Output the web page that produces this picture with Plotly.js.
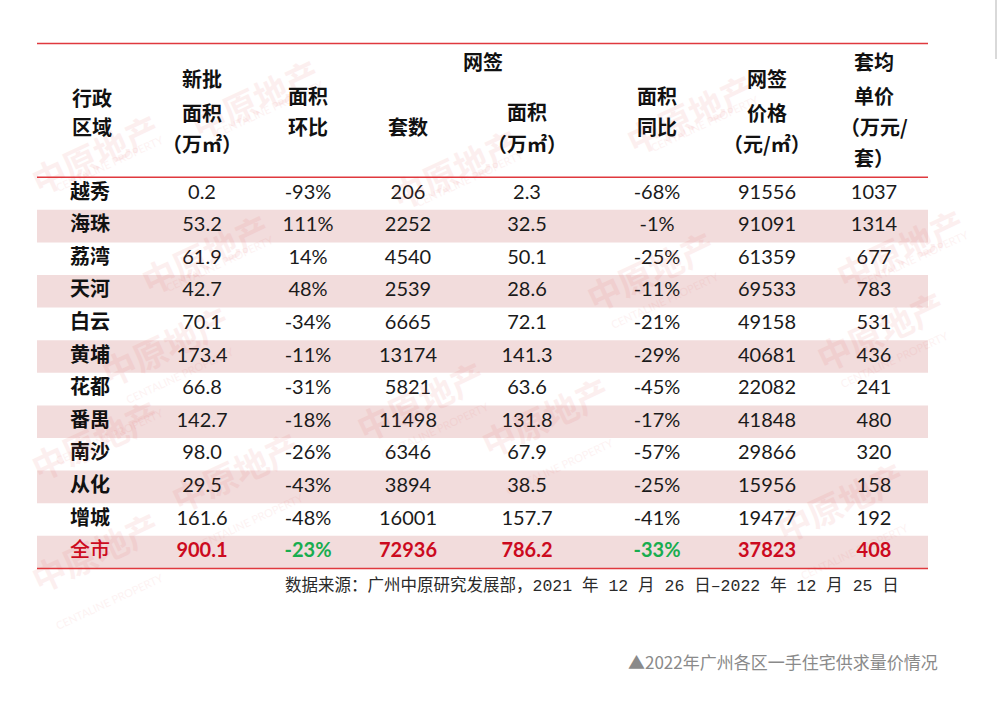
<!DOCTYPE html>
<html>
<head>
<meta charset="utf-8">
<script src="https://cdn.plot.ly/plotly-3.0.1.min.js"></script>
<style>html,body{margin:0;padding:0;background:#fff;}#chart{width:1000px;height:702px;}</style>
</head>
<body>
<div id="chart"></div>
<script>
// ---------- DATA ----------
const districts = ['越秀','海珠','荔湾','天河','白云','黄埔','花都','番禺','南沙','从化','增城'];
const newArea   = [0.2, 53.2, 61.9, 42.7, 70.1, 173.4, 66.8, 142.7, 98.0, 29.5, 161.6];   // 新批面积 (万㎡)
const areaMoM   = [-93, 111, 14, 48, -34, -11, -31, -18, -26, -43, -48];                   // 面积环比 %
const signUnits = [206, 2252, 4540, 2539, 6665, 13174, 5821, 11498, 6346, 3894, 16001];     // 网签套数
const signArea  = [2.3, 32.5, 50.1, 28.6, 72.1, 141.3, 63.6, 131.8, 67.9, 38.5, 157.7];     // 网签面积 (万㎡)
const areaYoY   = [-68, -1, -25, -11, -21, -29, -45, -17, -57, -25, -41];                   // 面积同比 %
const signPrice = [91556, 91091, 61359, 69533, 49158, 40681, 22082, 41848, 29866, 15956, 19477]; // 元/㎡
const unitPrice = [1037, 1314, 677, 783, 531, 436, 241, 480, 320, 158, 192];                 // 万元/套
const totalLabel = '全市';
const totalRow = {newArea: 900.1, areaMoM: -23, signUnits: 72936, signArea: 786.2, areaYoY: -33, signPrice: 37823, unitPrice: 408};

const headerLines = [
  ['行政','区域'],
  ['新批','面积','（万㎡）'],
  ['面积','环比'],
  ['套数'],
  ['面积','（万㎡）'],
  ['面积','同比'],
  ['网签','价格','（元/㎡）'],
  ['套均','单价','（万元/','套）']
];
const groupHeader = '网签';
const sourceText = '数据来源：广州中原研究发展部，2021 年 12 月 26 日–2022 年 12 月 25 日';
const captionText = '▲2022年广州各区一手住宅供求量价情况';
const watermarkText = '中原地产';
const watermarkSub = 'CENTALINE PROPERTY';

// ---------- LAYOUT CONSTANTS ----------
const W = 1000, H = 702;
const ROW_H = 32.6, FIRST_ROW_PX = 193.5;
const colX = [70, 202, 308, 408, 527, 657, 767, 874];
const headerPx = [[97,127],[78,112,143],[96,127],[126],[111,143],[96,127],[78,112,143],[62,95,127,158]];
const groupHeaderX = 483, groupHeaderPx = 62;
const CJK = '"Noto Sans CJK SC", "Noto Sans", sans-serif';
const NUM = 'Lato, "Liberation Sans", sans-serif';
const MONO = '"Liberation Mono", "Noto Sans CJK SC", monospace';
const RED = '#cc0a1e', GREEN = '#18ad4f', LINE = '#e0393e', BAND = '#f2dcdc';

const fmt1 = v => v.toFixed(1);
const pct = v => v + '%';
const int = v => String(v);

const columns = [
  {vals: districts, f: s => s, total: totalLabel},
  {vals: newArea, f: fmt1, total: totalRow.newArea},
  {vals: areaMoM, f: pct, total: totalRow.areaMoM, totalGreen: true},
  {vals: signUnits, f: int, total: totalRow.signUnits},
  {vals: signArea, f: fmt1, total: totalRow.signArea},
  {vals: areaYoY, f: pct, total: totalRow.areaYoY, totalGreen: true},
  {vals: signPrice, f: int, total: totalRow.signPrice},
  {vals: unitPrice, f: int, total: totalRow.unitPrice}
];

const nRows = districts.length + 1;
const rowIdx = districts.map((_, i) => i);
const totalIdx = districts.length;

const traces = [];
columns.forEach((c, ci) => {
  const isName = ci === 0;
  traces.push({
    type: 'scatter', mode: 'text', hoverinfo: 'skip', showlegend: false,
    x: rowIdx.map(() => colX[ci]), y: rowIdx,
    text: c.vals.map(c.f),
    textposition: isName ? 'middle right' : 'middle center',
    textfont: isName ? {family: CJK, size: 20, color: '#111', weight: 'bold'}
                     : {family: NUM, size: 20, color: '#1a1a1a'}
  });
  traces.push({
    type: 'scatter', mode: 'text', hoverinfo: 'skip', showlegend: false,
    x: [colX[ci]], y: [totalIdx],
    text: [c.f(c.total)],
    textposition: isName ? 'middle right' : 'middle center',
    textfont: isName ? {family: CJK, size: 20, color: RED, weight: 500}
                     : {family: NUM, size: 20, color: c.totalGreen ? GREEN : RED, weight: 'bold'}
  });
});

const shapes = [];
for (let i = 0; i < nRows; i++) {
  if (i % 2 === 1) {
    shapes.push({type: 'rect', layer: 'below', xref: 'x', yref: 'y',
      x0: 37, x1: 928, y0: i - 0.5, y1: i + 0.5, fillcolor: BAND, line: {width: 0}});
  }
}
const pxToRow = p => (p - FIRST_ROW_PX) / ROW_H;
[pxToRow(43.5), -0.5, nRows - 0.5].forEach(y => {
  shapes.push({type: 'line', layer: 'above', xref: 'x', yref: 'y', x0: 37, x1: 928, y0: y, y1: y,
    line: {color: LINE, width: 1.5}});
});
shapes.push({type: 'line', xref: 'x', yref: 'paper', x0: 996, x1: 996, y0: 1, y1: 1 - 59 / H,
  line: {color: '#d9d9d9', width: 2}});

const annotations = [];
const pyToPaper = p => 1 - p / H;
// faint watermarks
const wm = [[95,100],[255,45],[455,115],[690,60],[900,195],[205,200],[650,270],[165,345],[95,440],[420,400],[545,470],[235,525],[840,555],[95,605],[880,330]];
wm.forEach(([x, y]) => {
  annotations.push({xref: 'x', yref: 'paper', x: x, y: pyToPaper(y), text: '<b>' + watermarkText + '</b>',
    showarrow: false, textangle: -25, opacity: 0.07, font: {family: CJK, size: 34, color: '#e03030'}});
  annotations.push({xref: 'x', yref: 'paper', x: x + 14, y: pyToPaper(y + 30), text: watermarkSub,
    showarrow: false, textangle: -25, opacity: 0.06, font: {family: NUM, size: 11, color: '#e03030'}});
});
headerLines.forEach((lines, ci) => {
  lines.forEach((t, li) => {
    annotations.push({xref: 'x', yref: 'paper', x: colX[ci], y: pyToPaper(headerPx[ci][li]),
      text: t, showarrow: false, xanchor: ci === 0 ? 'left' : 'center', yanchor: 'middle',
      font: {family: CJK, size: 20, color: '#111', weight: 'bold'}});
  });
});
annotations.push({xref: 'x', yref: 'paper', x: groupHeaderX, y: pyToPaper(groupHeaderPx), text: groupHeader,
  showarrow: false, xanchor: 'center', yanchor: 'middle', font: {family: CJK, size: 20, color: '#111', weight: 'bold'}});
annotations.push({xref: 'x', yref: 'paper', x: 901, y: pyToPaper(586), text: sourceText, showarrow: false,
  xanchor: 'right', yanchor: 'middle', font: {family: MONO, size: 16.5, color: '#2a2a2a'}});
annotations.push({xref: 'x', yref: 'paper', x: 940, y: pyToPaper(661), text: captionText, showarrow: false,
  xanchor: 'right', yanchor: 'middle', font: {family: CJK, size: 17, color: '#8a8a8a'}});

const layout = {
  width: W, height: H, margin: {l: 0, r: 0, t: 0, b: 0},
  paper_bgcolor: '#fff', plot_bgcolor: '#fff', showlegend: false,
  xaxis: {range: [0, W], visible: false, fixedrange: true},
  yaxis: {range: [(H - FIRST_ROW_PX) / ROW_H, -FIRST_ROW_PX / ROW_H], visible: false, fixedrange: true},
  shapes: shapes, annotations: annotations
};
Plotly.newPlot('chart', traces, layout, {staticPlot: true, displayModeBar: false});
</script>
</body>
</html>
